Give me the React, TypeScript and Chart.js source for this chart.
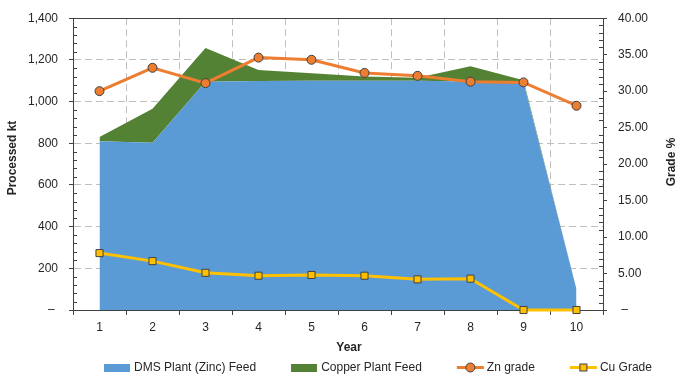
import React, { useEffect, useRef } from "react";
import { Chart, registerables } from "chart.js";

Chart.register(...registerables);

// ---- data ----
const years = ["1", "2", "3", "4", "5", "6", "7", "8", "9", "10"];
const dmsFeed = [810, 803, 1095, 1099, 1100, 1100, 1100, 1096, 1092, 100];
const copperFeed = [20, 163, 162, 53, 36, 20, 14, 74, 10, 0];
const znGrade = [30.0, 33.2, 31.1, 34.6, 34.3, 32.5, 32.1, 31.3, 31.2, 28.0];
const cuGrade = [7.8, 6.7, 5.1, 4.7, 4.8, 4.7, 4.2, 4.3, 0, 0];

const seriesNames = ["DMS Plant (Zinc) Feed", "Copper Plant Feed", "Zn grade", "Cu Grade"];
const leftAxis = { min: 0, max: 1400, step: 200, minorStep: 40 };
const rightAxis = { min: 0, max: 40, step: 5, minorStep: 1 };
const axisTitles = { x: "Year", left: "Processed kt", right: "Grade %" };

// ---- styles ----
const FONT = "'Liberation Sans', Arial, sans-serif";
const TEXT = "#262626";
const AXIS = "#404040";
const GRID = "#BFBFBF";
const BLUE = "#5B9BD5";
const GREEN = "#548235";
const ORANGE = "#ED7D31";
const YELLOW = "#FFC000";
const MARKER_BORDER = "#404040";
const DASH = [7, 4];

const decorPlugin = {
  id: "decor",
  beforeDatasetsDraw(chart: any) {
    const ctx = chart.ctx as CanvasRenderingContext2D;
    const area = chart.chartArea;
    ctx.save();
    ctx.strokeStyle = AXIS;
    ctx.lineWidth = 1;
    ctx.beginPath();
    const ty = Math.round(area.top) + 0.5;
    ctx.moveTo(area.left, ty);
    ctx.lineTo(area.right, ty);
    ctx.stroke();
    ctx.restore();
  },
  afterDraw(chart: any) {
    const ctx = chart.ctx as CanvasRenderingContext2D;
    const area = chart.chartArea;
    const y = chart.scales.y;
    const y1 = chart.scales.y1;
    ctx.save();

    // minor tick marks (inside)
    ctx.strokeStyle = AXIS;
    ctx.lineWidth = 1;
    ctx.beginPath();
    for (let v = leftAxis.min; v <= leftAxis.max; v += leftAxis.minorStep) {
      if (v % leftAxis.step === 0) continue;
      const py = Math.round(y.getPixelForValue(v)) + 0.5;
      ctx.moveTo(area.left, py);
      ctx.lineTo(area.left + 4, py);
    }
    for (let v = rightAxis.min; v <= rightAxis.max; v += rightAxis.minorStep) {
      if (v % rightAxis.step === 0) continue;
      const py = Math.round(y1.getPixelForValue(v)) + 0.5;
      ctx.moveTo(area.right - 4, py);
      ctx.lineTo(area.right, py);
    }
    ctx.stroke();

    // axis titles
    ctx.fillStyle = TEXT;
    ctx.font = `bold 12px ${FONT}`;
    ctx.textAlign = "center";
    ctx.textBaseline = "middle";
    ctx.fillText(axisTitles.x, 349, 348);
    ctx.save();
    ctx.translate(13, 158);
    ctx.rotate(-Math.PI / 2);
    ctx.fillText(axisTitles.left, 0, 0);
    ctx.restore();
    ctx.save();
    ctx.translate(672, 162);
    ctx.rotate(-Math.PI / 2);
    ctx.fillText(axisTitles.right, 0, 0);
    ctx.restore();

    // legend
    ctx.font = `12px ${FONT}`;
    ctx.textAlign = "left";
    const kinds = ["box", "box", "circle", "square"];
    const colors = [BLUE, GREEN, ORANGE, YELLOW];
    const symW = 27;
    const symGap = 3;
    const itemGap = 35;
    const widths = seriesNames.map((n) => symW + symGap + ctx.measureText(n).width);
    const total = widths.reduce((a, b) => a + b, 0) + itemGap * (seriesNames.length - 1);
    let x = 378 - total / 2;
    const cy = 367.5;
    seriesNames.forEach((name, i) => {
      const k = kinds[i];
      if (k === "box") {
        ctx.fillStyle = colors[i];
        ctx.fillRect(Math.round(x), Math.round(cy - 4), symW - 1, 8);
      } else {
        ctx.strokeStyle = colors[i];
        ctx.lineWidth = 3;
        ctx.beginPath();
        ctx.moveTo(x, cy);
        ctx.lineTo(x + symW, cy);
        ctx.stroke();
        ctx.fillStyle = colors[i];
        ctx.strokeStyle = MARKER_BORDER;
        ctx.lineWidth = 1;
        const mx = x + symW / 2;
        if (k === "circle") {
          ctx.beginPath();
          ctx.arc(mx, cy, 4.5, 0, Math.PI * 2);
          ctx.fill();
          ctx.stroke();
        } else {
          ctx.fillRect(mx - 3.5, cy - 3.5, 7, 7);
          ctx.strokeRect(mx - 3.5, cy - 3.5, 7, 7);
        }
      }
      ctx.fillStyle = TEXT;
      ctx.fillText(name, x + symW + symGap, cy + 0.5);
      x += widths[i] + itemGap;
    });

    ctx.restore();
  },
};

export default function App() {
  const ref = useRef<HTMLCanvasElement | null>(null);

  useEffect(() => {
    if (!ref.current) return;
    const tickFont = { family: FONT, size: 12 };
    const chart = new Chart(ref.current, {
      type: "line",
      data: {
        labels: years,
        datasets: [
          {
            label: seriesNames[0],
            data: dmsFeed,
            yAxisID: "y",
            stack: "feed",
            backgroundColor: BLUE,
            borderColor: BLUE,
            borderWidth: 0,
            pointRadius: 0,
            fill: "origin",
            tension: 0,
            order: 1,
          },
          {
            label: seriesNames[1],
            data: copperFeed,
            yAxisID: "y",
            stack: "feed",
            backgroundColor: GREEN,
            borderColor: GREEN,
            borderWidth: 0,
            pointRadius: 0,
            fill: "-1",
            tension: 0,
            order: 1,
          },
          {
            label: seriesNames[2],
            data: znGrade,
            yAxisID: "y1",
            borderColor: ORANGE,
            backgroundColor: ORANGE,
            borderWidth: 3,
            pointRadius: 4.5,
            pointStyle: "circle",
            pointBackgroundColor: ORANGE,
            pointBorderColor: MARKER_BORDER,
            pointBorderWidth: 1,
            fill: false,
            tension: 0,
            order: 0,
            clip: false,
          },
          {
            label: seriesNames[3],
            data: cuGrade,
            yAxisID: "y1",
            borderColor: YELLOW,
            backgroundColor: YELLOW,
            borderWidth: 3,
            pointRadius: 5,
            pointStyle: "rect",
            pointBackgroundColor: YELLOW,
            pointBorderColor: MARKER_BORDER,
            pointBorderWidth: 1,
            fill: false,
            tension: 0,
            order: 0,
            clip: false,
          },
        ],
      } as any,
      options: {
        responsive: false,
        animation: false,
        events: [],
        layout: { padding: { left: 0, right: 0, top: 12, bottom: 0 } },
        plugins: {
          legend: { display: false },
          tooltip: { enabled: false },
          title: { display: false },
        },
        scales: {
          x: {
            type: "category",
            offset: true,
            grid: {
              offset: true,
              color: GRID,
              tickColor: AXIS,
              tickLength: 5,
              lineWidth: 1,
            },
            border: { color: AXIS, dash: DASH, width: 1 },
            ticks: { font: tickFont, color: TEXT, padding: 5, maxRotation: 0, autoSkip: false },
            afterFit(s: any) {
              s.height = 69;
            },
          },
          y: {
            position: "left",
            stacked: true,
            min: leftAxis.min,
            max: leftAxis.max,
            grid: { color: GRID, tickColor: AXIS, tickLength: 4, lineWidth: 1 },
            border: { color: AXIS, dash: DASH, width: 1 },
            ticks: {
              stepSize: leftAxis.step,
              font: tickFont,
              color: TEXT,
              padding: 11,
              callback: (v: any) => (Number(v) === 0 ? "\u2013 " : Number(v).toLocaleString("en-US")),
            },
            afterFit(s: any) {
              s.width = 73;
            },
          },
          y1: {
            position: "right",
            stacked: false,
            min: rightAxis.min,
            max: rightAxis.max,
            grid: { drawOnChartArea: false, tickColor: AXIS, tickLength: 4, lineWidth: 1 },
            border: { color: AXIS, width: 1 },
            ticks: {
              stepSize: rightAxis.step,
              font: tickFont,
              color: TEXT,
              padding: 11,
              callback: (v: any) => (Number(v) === 0 ? " \u2013" : Number(v).toFixed(2)),
            },
            afterFit(s: any) {
              s.width = 87;
            },
          },
        },
      } as any,
      plugins: [decorPlugin],
    });
    return () => chart.destroy();
  }, []);

  return (
    <div style={{ position: "absolute", left: 0, top: 0, width: 690, height: 379, background: "#fff" }}>
      <canvas ref={ref} width={690} height={379} style={{ display: "block" }} />
    </div>
  );
}
